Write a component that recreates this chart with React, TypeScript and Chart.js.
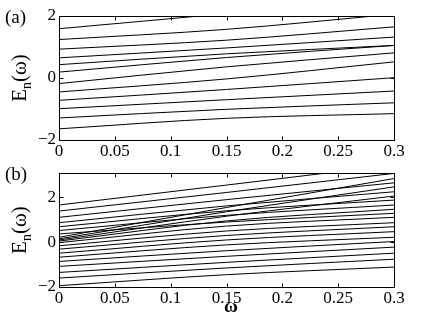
import React, { useEffect, useRef } from "react";
import { Chart, registerables } from "chart.js";
Chart.register(...registerables);

// omega sample points
const omega = [0, 0.15, 0.3];
const xTicks = [0, 0.05, 0.1, 0.15, 0.2, 0.25, 0.3];
const yTicksA = [-2, 0, 2];
const yTicksB = [-2, 0, 2];

// panel (a): E_n at omega = 0, 0.15, 0.3
const levelsA: number[][] = [
  [-1.64, -1.3, -1.15],
  [-1.29, -1.01, -0.8],
  [-0.99, -0.7, -0.42],
  [-0.72, -0.37, 0.01],
  [-0.45, -0.03, 0.52],
  [-0.18, 0.36, 0.81],
  [0.19, 0.66, 1.05],
  [0.43, 0.78, 1.05],
  [0.65, 0.97, 1.32],
  [0.93, 1.22, 1.65],
  [1.24, 1.57, 2.06],
  [1.59, 2.08, 2.6],
];

// panel (b): E_n at omega = 0, 0.15, 0.3
const levelsB: number[][] = [
  [1.66, 2.55, 3.45],
  [1.39, 2.22, 3.07],
  [0.22, 1.55, 2.84],
  [1.11, 1.9, 2.65],
  [0.15, 1.36, 2.47],
  [0.87, 1.62, 2.25],
  [0.1, 1.16, 2.06],
  [0.69, 1.4, 1.88],
  [0.52, 1.2, 1.66],
  [0.05, 0.95, 1.47],
  [0.37, 0.9, 1.29],
  [-0.02, 0.72, 1.11],
  [-0.16, 0.5, 0.87],
  [-0.31, 0.3, 0.69],
  [-0.49, 0.1, 0.47],
  [-0.67, -0.12, 0.22],
  [-0.86, -0.38, 0.03],
  [-1.08, -0.63, -0.22],
  [-1.35, -0.9, -0.49],
  [-1.6, -1.15, -0.76],
  [-1.94, -1.45, -1.11],
];

const FONT = "Liberation Serif";

function framePlugin(panelLabel: string, yTicks: number[], showOmega: boolean, panelLabelY: number) {
  return {
    id: "frame" + panelLabel,
    afterDatasetsDraw(chart: any) {
      const { ctx, chartArea: a, scales } = chart;
      ctx.save();
      ctx.strokeStyle = "#000";
      ctx.lineWidth = 1;
      const L = Math.round(a.left) + 0.5;
      const R = Math.round(a.right) + 0.5;
      const T = Math.round(a.top) + 0.5;
      const B = Math.round(a.bottom) + 0.5;
      ctx.strokeRect(L, T, R - L, B - T);
      const tl = 4;
      ctx.beginPath();
      xTicks.forEach((v) => {
        const px = Math.round(scales.x.getPixelForValue(v)) + 0.5;
        ctx.moveTo(px, B);
        ctx.lineTo(px, B - tl);
        ctx.moveTo(px, T);
        ctx.lineTo(px, T + tl);
      });
      yTicks.forEach((v) => {
        const py = Math.round(scales.y.getPixelForValue(v)) + 0.5;
        ctx.moveTo(L, py);
        ctx.lineTo(L + tl, py);
        ctx.moveTo(R, py);
        ctx.lineTo(R - tl, py);
      });
      ctx.stroke();

      ctx.fillStyle = "#000";
      ctx.textBaseline = "middle";
      ctx.textAlign = "left";
      ctx.font = `19px "${FONT}"`;
      ctx.fillText(panelLabel, 5, panelLabelY);

      // y axis title E_n(ω)
      const cy = (a.top + a.bottom) / 2;
      ctx.translate(26, cy);
      ctx.rotate(-Math.PI / 2);
      ctx.textBaseline = "alphabetic";
      const big = `21px "${FONT}"`;
      const small = `14px "${FONT}"`;
      ctx.font = big;
      const wE = ctx.measureText("E").width;
      const wR = ctx.measureText("(ω)").width;
      ctx.font = small;
      const wn = ctx.measureText("n").width;
      let sx = -(wE + wn + wR) / 2;
      ctx.font = big;
      ctx.fillText("E", sx, 0);
      ctx.font = small;
      ctx.fillText("n", sx + wE, 5);
      ctx.font = big;
      ctx.fillText("(ω)", sx + wE + wn, 0);
      ctx.restore();

      if (showOmega) {
        ctx.save();
        ctx.fillStyle = "#000";
        ctx.font = `bold 19px "${FONT}"`;
        ctx.textAlign = "center";
        ctx.textBaseline = "alphabetic";
        ctx.fillText("ω", 231, 152);
        ctx.restore();
      }
    },
  };
}

function makeChart(
  canvas: HTMLCanvasElement,
  levels: number[][],
  yMin: number,
  yMax: number,
  yTicks: number[],
  padTop: number,
  xAxisH: number,
  plugin: any
) {
  const tickFont = { family: FONT, size: 17 };
  return new Chart(canvas, {
    type: "line",
    data: {
      datasets: levels.map((vals) => ({
        data: omega.map((x, i) => ({ x, y: vals[i] })),
        borderColor: "#000",
        borderWidth: 1,
        pointRadius: 0,
        cubicInterpolationMode: "monotone" as const,
        fill: false,
      })),
    },
    options: {
      animation: false,
      responsive: false,
      maintainAspectRatio: false,
      devicePixelRatio: 1,
      layout: { padding: { top: padTop, right: 42, left: 0, bottom: 0 } },
      plugins: { legend: { display: false }, tooltip: { enabled: false } },
      scales: {
        x: {
          type: "linear",
          min: 0,
          max: 0.3,
          grid: { display: false, drawTicks: false },
          border: { display: false },
          afterBuildTicks: (s: any) => {
            s.ticks = xTicks.map((v) => ({ value: v }));
          },
          afterFit: (s: any) => {
            s.height = xAxisH;
          },
          ticks: {
            padding: 1,
            color: "#000",
            font: tickFont,
            maxRotation: 0,
            autoSkip: false,
            callback: (v: any) => String(v),
          },
        },
        y: {
          type: "linear",
          min: yMin,
          max: yMax,
          grid: { display: false, drawTicks: false },
          border: { display: false },
          afterBuildTicks: (s: any) => {
            s.ticks = yTicks.map((v) => ({ value: v }));
          },
          afterFit: (s: any) => {
            s.width = 59;
          },
          ticks: {
            padding: 3,
            color: "#000",
            font: tickFont,
            autoSkip: false,
            callback: (v: any) => (v < 0 ? "−" + Math.abs(v) : String(v)),
          },
        },
      },
    } as any,
    plugins: [plugin],
  });
}

export default function App() {
  const refA = useRef<HTMLCanvasElement>(null);
  const refB = useRef<HTMLCanvasElement>(null);
  useEffect(() => {
    const a = makeChart(refA.current!, levelsA, -2, 2, yTicksA, 16, 20, framePlugin("(a)", yTicksA, false, 18));
    const b = makeChart(refB.current!, levelsB, -2, 3.08, yTicksB, 13, 41, framePlugin("(b)", yTicksB, true, 15));
    return () => {
      a.destroy();
      b.destroy();
    };
  }, []);
  return (
    <div style={{ position: "absolute", left: 0, top: 0, width: 436, height: 328, background: "#fff" }}>
      <canvas ref={refA} width={436} height={160} style={{ display: "block", width: 436, height: 160 }} />
      <canvas ref={refB} width={436} height={168} style={{ display: "block", width: 436, height: 168 }} />
    </div>
  );
}
